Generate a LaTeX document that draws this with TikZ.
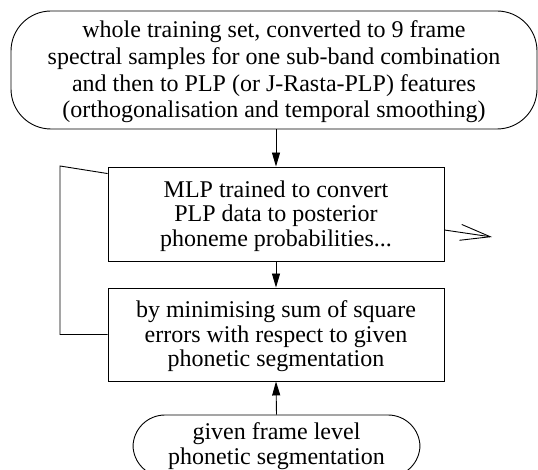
\documentclass[tikz,border=0pt]{standalone}
\usepackage{fontspec}
\setmainfont{Liberation Serif}
\usetikzlibrary{arrows.meta,calc}
% strut that lowers a multi-line label by about 2pt
\newcommand{\lowerstrut}{\rule{0pt}{20.5pt}}
\begin{document}
\begin{tikzpicture}[x=1pt,y=-1pt,
  every node/.style={font=\fontsize{24}{24.6}\selectfont, align=center, inner sep=0pt},
  term/.style={draw, line width=0.9pt, rounded corners=#1},
  proc/.style={draw, line width=0.9pt, minimum width=336pt},
  flow/.style={line width=0.9pt, -{Triangle[length=14pt,width=8pt]}},
  resultarrow/.style={line width=0.9pt, -{Straight Barb[length=30pt,width=16pt,line width=0.9pt]}}]
  \useasboundingbox (0,0) rectangle (538,470);

  % input data
  \node[term=40pt, minimum width=526pt, minimum height=118pt,
        font=\fontsize{24}{26.7}\selectfont] (data) at (274,70)
    {\lowerstrut whole training set, converted to 9 frame\\
     spectral samples for one sub-band combination\\
     and then to PLP (or J-Rasta-PLP) features\\
     (orthogonalisation and temporal smoothing)};

  % training stages
  \node[proc, minimum height=94pt] (mlp) at (276,214)
    {\lowerstrut MLP trained to convert\\ PLP data to posterior\\ phoneme probabilities...};
  \node[proc, minimum height=93pt] (crit) at (276,334.5)
    {\lowerstrut by minimising sum of square\\ errors with respect to given\\ phonetic segmentation};

  % targets
  \node[term=32pt, minimum width=287pt, minimum height=62pt] (seg) at (276.5,446)
    {given frame level\\ phonetic segmentation};

  \coordinate (loopb) at (60,334.5);
  \coordinate (loopt) at (60,166);
  \coordinate (result) at (492,237);

  \draw[flow] (data.south -| mlp.north) -- (mlp.north);
  \draw[flow] (mlp.south) -- (crit.north);
  \draw[flow] (seg.north) -- (crit.south);
  \draw[resultarrow] (mlp.east |- 0,230) -- (result);
  \draw[line width=0.9pt] (crit.west) -- (loopb) -- (loopt) -- ([yshift=-7pt]mlp.north west);
\end{tikzpicture}
\end{document}
